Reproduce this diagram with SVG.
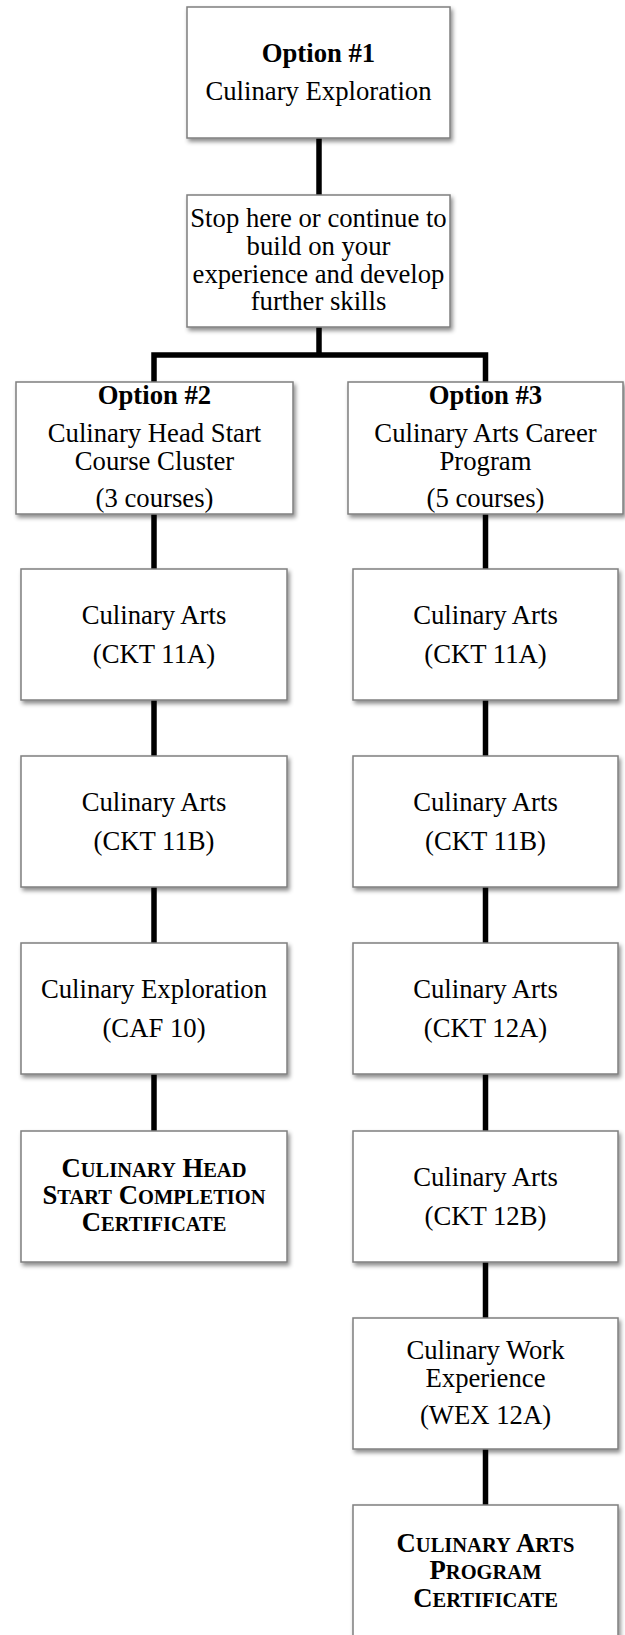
<svg xmlns="http://www.w3.org/2000/svg" width="625" height="1635" viewBox="0 0 625 1635">
<defs>
<filter id="sh" x="-10%" y="-10%" width="125%" height="130%">
<feDropShadow dx="2" dy="3" stdDeviation="2" flood-color="#000" flood-opacity="0.45"/>
</filter>
<style>
.box{fill:#fff;stroke:#7f7f7f;stroke-width:1.5;filter:url(#sh)}
.t{font-family:"Liberation Serif","Times New Roman",serif;font-size:26.7px;fill:#000;text-anchor:middle}
.b{font-weight:bold}
.sc{font-size:20.5px}
.con{stroke:#000;stroke-width:5.5;fill:none;stroke-linejoin:miter;stroke-linecap:butt}
</style>
</defs>
<rect width="625" height="1635" fill="#fff"/>
<g id="connectors">
<line class="con" x1="319" y1="138" x2="319" y2="195"/>
<polyline class="con" points="154,382 154,355 485.5,355 485.5,382"/>
<line class="con" x1="319" y1="327" x2="319" y2="355"/>
<line class="con" x1="154" y1="514" x2="154" y2="569"/>
<line class="con" x1="154" y1="700" x2="154" y2="756"/>
<line class="con" x1="154" y1="887" x2="154" y2="943"/>
<line class="con" x1="154" y1="1074" x2="154" y2="1131"/>
<line class="con" x1="485.5" y1="514" x2="485.5" y2="569"/>
<line class="con" x1="485.5" y1="700" x2="485.5" y2="756"/>
<line class="con" x1="485.5" y1="887" x2="485.5" y2="943"/>
<line class="con" x1="485.5" y1="1074" x2="485.5" y2="1131"/>
<line class="con" x1="485.5" y1="1262" x2="485.5" y2="1318"/>
<line class="con" x1="485.5" y1="1449" x2="485.5" y2="1505"/>
</g>
<g id="opt1">
<rect class="box" x="187" y="7" width="263" height="131"/>
<text class="t b" x="318.5" y="62">Option #1</text>
<text class="t" x="318.5" y="100">Culinary Exploration</text>
</g>
<g id="stop">
<rect class="box" x="187" y="195" width="263" height="132"/>
<text class="t" x="318.5" y="227">Stop here or continue to</text>
<text class="t" x="318.5" y="254.5">build on your</text>
<text class="t" x="318.5" y="282.5">experience and develop</text>
<text class="t" x="318.5" y="310">further skills</text>
</g>
<g id="opt2">
<rect class="box" x="16" y="382" width="277" height="132"/>
<text class="t b" x="154.5" y="404">Option #2</text>
<text class="t" x="154.5" y="441.5">Culinary Head Start</text>
<text class="t" x="154.5" y="469.5">Course Cluster</text>
<text class="t" x="154.5" y="507">(3 courses)</text>
</g>
<g id="opt3">
<rect class="box" x="348" y="382" width="275" height="132"/>
<text class="t b" x="485.5" y="404">Option #3</text>
<text class="t" x="485.5" y="441.5">Culinary Arts Career</text>
<text class="t" x="485.5" y="469.5">Program</text>
<text class="t" x="485.5" y="507">(5 courses)</text>
</g>
<g id="l-ckt11a">
<rect class="box" x="21" y="569" width="266" height="131"/>
<text class="t" x="154" y="624">Culinary Arts</text>
<text class="t" x="154" y="663">(CKT 11A)</text>
</g>
<g id="l-ckt11b">
<rect class="box" x="21" y="756" width="266" height="131"/>
<text class="t" x="154" y="811">Culinary Arts</text>
<text class="t" x="154" y="850">(CKT 11B)</text>
</g>
<g id="l-caf10">
<rect class="box" x="21" y="943" width="266" height="131"/>
<text class="t" x="154" y="998">Culinary Exploration</text>
<text class="t" x="154" y="1037">(CAF 10)</text>
</g>
<g id="l-cert">
<rect class="box" x="21" y="1131" width="266" height="131"/>
<text class="t b" x="154" y="1177">C<tspan class="sc">ULINARY</tspan> H<tspan class="sc">EAD</tspan></text>
<text class="t b" x="154" y="1204">S<tspan class="sc">TART</tspan> C<tspan class="sc">OMPLETION</tspan></text>
<text class="t b" x="154" y="1231">C<tspan class="sc">ERTIFICATE</tspan></text>
</g>
<g id="r-ckt11a">
<rect class="box" x="353" y="569" width="265" height="131"/>
<text class="t" x="485.5" y="624">Culinary Arts</text>
<text class="t" x="485.5" y="663">(CKT 11A)</text>
</g>
<g id="r-ckt11b">
<rect class="box" x="353" y="756" width="265" height="131"/>
<text class="t" x="485.5" y="811">Culinary Arts</text>
<text class="t" x="485.5" y="850">(CKT 11B)</text>
</g>
<g id="r-ckt12a">
<rect class="box" x="353" y="943" width="265" height="131"/>
<text class="t" x="485.5" y="998">Culinary Arts</text>
<text class="t" x="485.5" y="1037">(CKT 12A)</text>
</g>
<g id="r-ckt12b">
<rect class="box" x="353" y="1131" width="265" height="131"/>
<text class="t" x="485.5" y="1186">Culinary Arts</text>
<text class="t" x="485.5" y="1225">(CKT 12B)</text>
</g>
<g id="r-wex">
<rect class="box" x="353" y="1318" width="265" height="131"/>
<text class="t" x="485.5" y="1358.5">Culinary Work</text>
<text class="t" x="485.5" y="1386.5">Experience</text>
<text class="t" x="485.5" y="1424">(WEX 12A)</text>
</g>
<g id="r-cert">
<rect class="box" x="353" y="1505" width="265" height="140"/>
<text class="t b" x="485.5" y="1552">C<tspan class="sc">ULINARY</tspan> A<tspan class="sc">RTS</tspan></text>
<text class="t b" x="485.5" y="1579">P<tspan class="sc">ROGRAM</tspan></text>
<text class="t b" x="485.5" y="1607">C<tspan class="sc">ERTIFICATE</tspan></text>
</g>
</svg>
